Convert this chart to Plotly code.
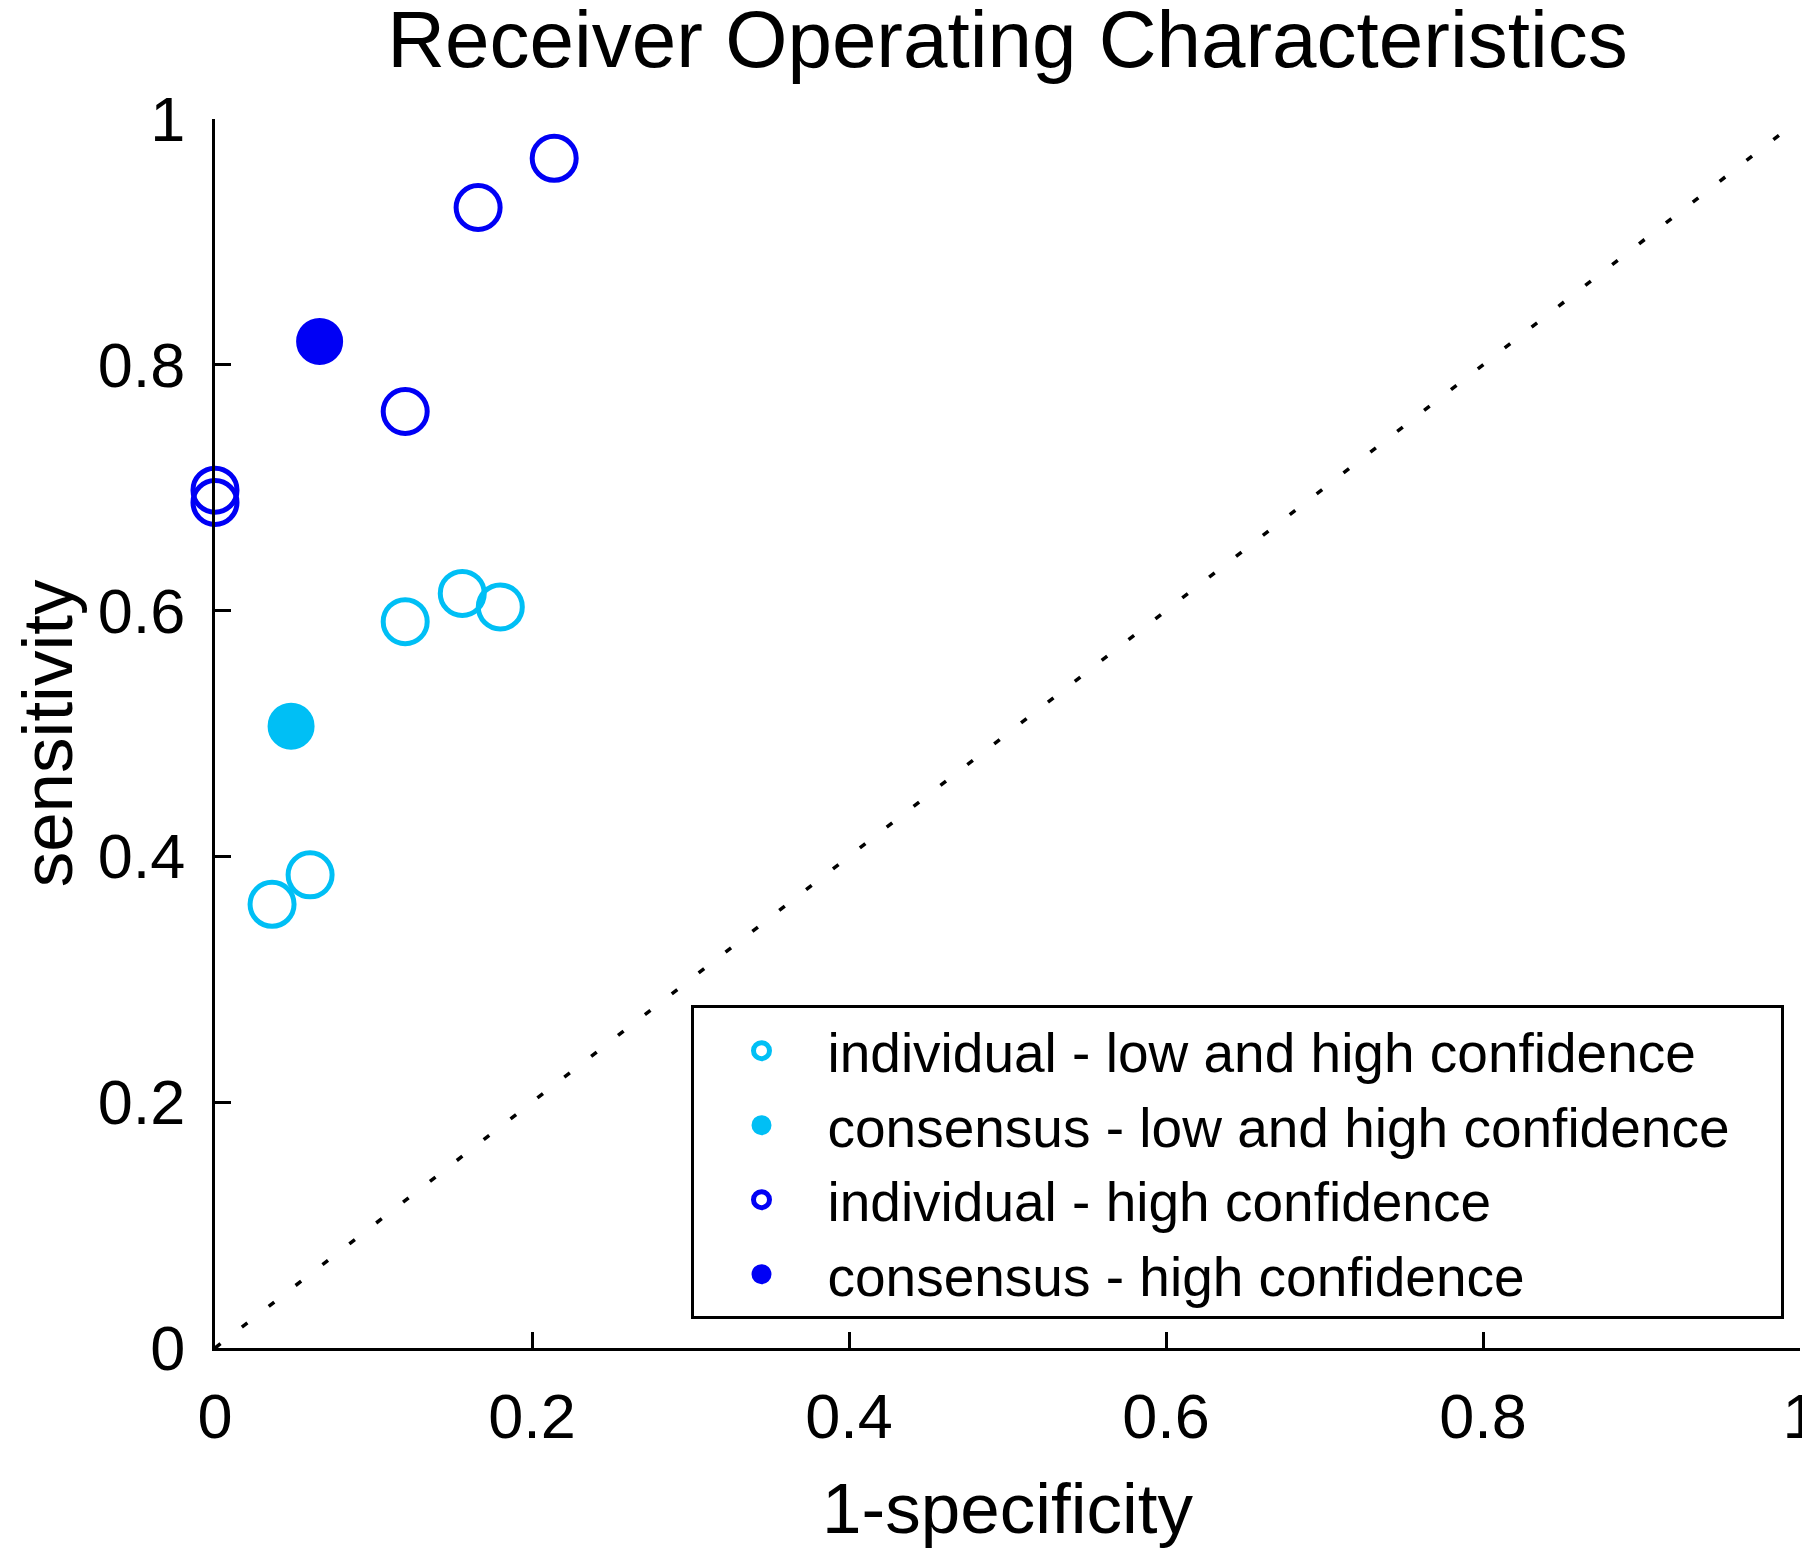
import plotly.graph_objects as go

indiv_lowhigh_x = [0.036, 0.060, 0.120, 0.156, 0.180]
indiv_lowhigh_y = [0.361, 0.385, 0.591, 0.614, 0.603]
cons_lowhigh_x = [0.048]
cons_lowhigh_y = [0.506]
indiv_high_x = [0.0, 0.0, 0.120, 0.166, 0.214]
indiv_high_y = [0.698, 0.688, 0.762, 0.928, 0.968]
cons_high_x = [0.066]
cons_high_y = [0.819]
chance_x = [0, 1]
chance_y = [0, 1]
tick_vals = [0, 0.2, 0.4, 0.6, 0.8, 1]
tick_text = ["0", "0.2", "0.4", "0.6", "0.8", "1"]
legend_names = [
    "individual - low and high confidence",
    "consensus - low and high confidence",
    "individual - high confidence",
    "consensus - high confidence",
]

LIGHT = "#00bff5"
DARK = "#0000f5"
FONT = "Liberation Sans, Arial, sans-serif"
PAD = "\u00a0\u00a0\u00a0"  # a little room on the right of the legend text

fig = go.Figure()

fig.add_trace(go.Scatter(
    x=chance_x, y=chance_y, mode="lines", showlegend=False,
    line=dict(color="black", width=3.5, dash="7px,27px"), hoverinfo="skip",
))

open_marker = dict(symbol="circle-open", size=44, line=dict(width=5))
fig.add_trace(go.Scatter(
    x=indiv_lowhigh_x, y=indiv_lowhigh_y, mode="markers",
    name=legend_names[0] + PAD,
    marker=dict(open_marker, color=LIGHT), cliponaxis=False,
))
fig.add_trace(go.Scatter(
    x=cons_lowhigh_x, y=cons_lowhigh_y, mode="markers",
    name=legend_names[1] + PAD,
    marker=dict(symbol="circle", size=43, color=LIGHT, line=dict(width=4, color=LIGHT)),
    cliponaxis=False,
))
fig.add_trace(go.Scatter(
    x=indiv_high_x, y=indiv_high_y, mode="markers",
    name=legend_names[2] + PAD,
    marker=dict(open_marker, color=DARK), cliponaxis=False,
))
fig.add_trace(go.Scatter(
    x=cons_high_x, y=cons_high_y, mode="markers",
    name=legend_names[3] + PAD,
    marker=dict(symbol="circle", size=43, color=DARK, line=dict(width=4, color=DARK)),
    cliponaxis=False,
))

axis_common = dict(
    range=[0, 1], tickvals=tick_vals, ticktext=tick_text,
    ticks="inside", ticklen=16, tickwidth=3, tickcolor="black",
    showline=True, linewidth=3, linecolor="black",
    showgrid=False, zeroline=False, ticklabeloverflow="allow",
    automargin=False,
    tickfont=dict(size=63, color="black", family=FONT),
)

fig.update_xaxes(
    **axis_common, ticklabelstandoff=11,
    title=dict(text="1-specificity", font=dict(size=71, color="black", family=FONT), standoff=34),
)
fig.update_yaxes(
    **axis_common, ticklabelstandoff=14,
    title=dict(text="sensitivity", font=dict(size=71, color="black", family=FONT), standoff=44),
)

# the page puts the figure 8px in from the top-left corner
fig.update_layout(
    width=1802, height=1546,
    margin=dict(l=207, r=10, t=111, b=206),
    paper_bgcolor="white", plot_bgcolor="white",
    font=dict(family=FONT, color="black"),
    title=dict(
        text="Receiver Operating Characteristics",
        font=dict(size=80, color="black", family=FONT),
        x=0.5, xref="paper", xanchor="center",
        y=0.98, yref="container", yanchor="middle",
        automargin=False,
    ),
    legend=dict(
        x=0.3, y=0.151, xanchor="left", yanchor="middle",
        bgcolor="white", bordercolor="black", borderwidth=3,
        font=dict(size=55, color="black", family=FONT),
        itemwidth=122, indentation=2,
    ),
)

fig.write_html("out.html")
